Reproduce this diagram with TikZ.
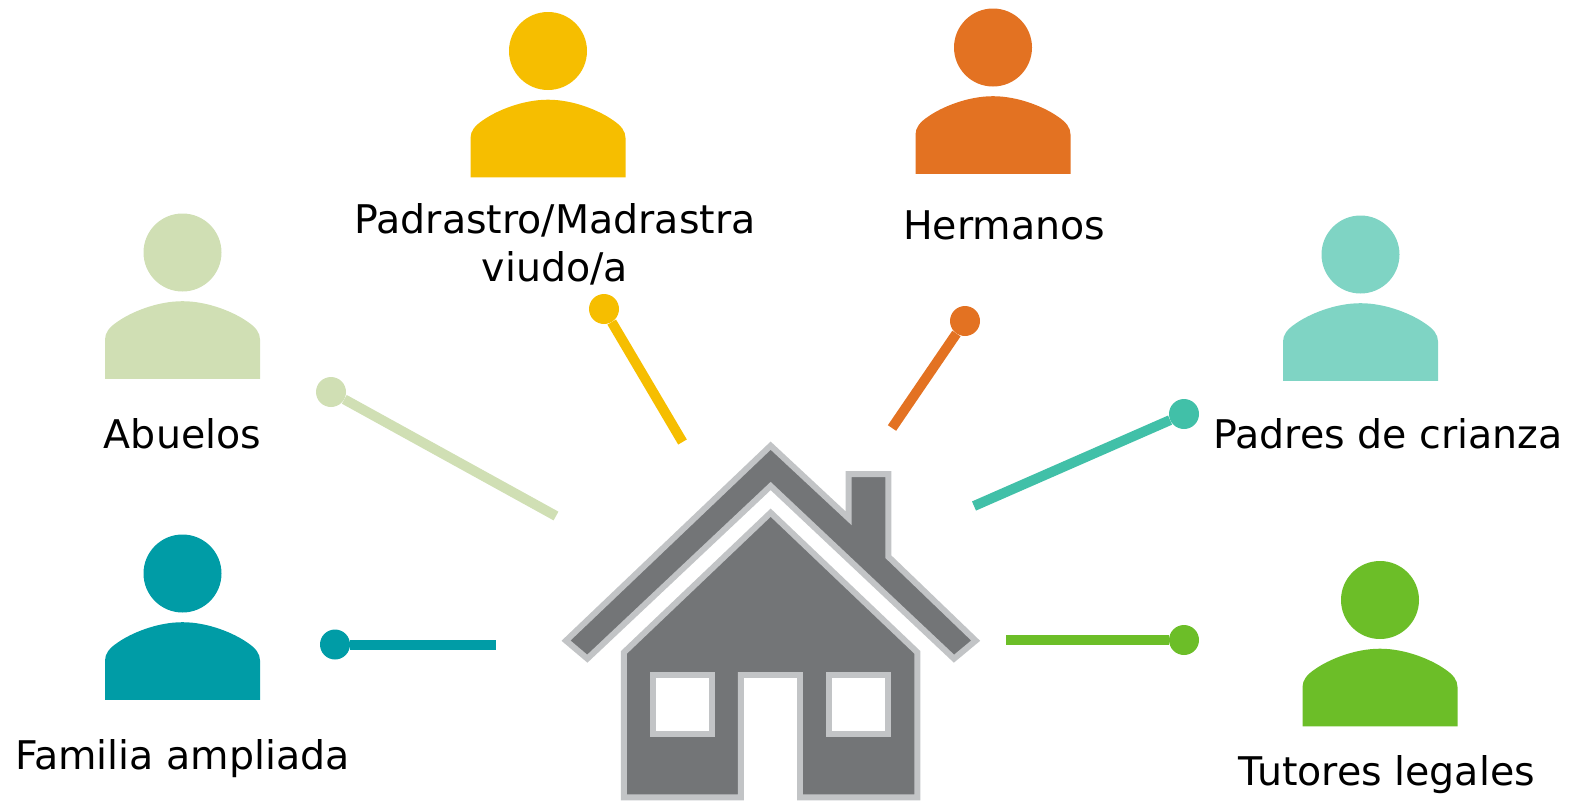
\documentclass[tikz,border=0pt]{standalone}
\usepackage{fontspec}
\setmainfont{DejaVu Sans}
\definecolor{cyellow}{HTML}{F6BE00}
\definecolor{corange}{HTML}{E37222}
\definecolor{cpale}{HTML}{D0DFB4}
\definecolor{cmint}{HTML}{7FD4C4}
\definecolor{cmintline}{HTML}{41C0A8}
\definecolor{cteal}{HTML}{009CA6}
\definecolor{cgreen}{HTML}{6CBE28}
\definecolor{housefill}{HTML}{737577}
\definecolor{houseline}{HTML}{C2C4C6}
\tikzset{
  head/.style={circle,fill=#1,inner sep=0pt,minimum size=78pt},
  dotnode/.style={circle,fill=#1,inner sep=0pt,minimum size=30pt},
  link/.style={draw=#1,line width=10pt},
  lab/.style={font=\fontsize{39.5pt}{48pt}\selectfont,text=black,inner sep=0pt,anchor=base,align=center},
  housepart/.style={fill=housefill,draw=houseline,line width=6pt,miter limit=10},
  windowpart/.style={fill=white,draw=houseline,line width=6pt}
}
\newcommand{\person}[4]{%
  \node[head=#4] (#1) at (#2,#3) {};
  \fill[#4,shift={(#2,#3)}] (-77.5,126.3) -- (-77.5,87) .. controls (-77.5,80) and (-73,74.5) .. (-64.7,69)
    .. controls (-52,60) and (-26,48.7) .. (0,48.7)
    .. controls (26,48.7) and (52,60) .. (64.7,69)
    .. controls (73,74.5) and (77.5,80) .. (77.5,87) -- (77.5,126.3) -- cycle;
}
\begin{document}
\begin{tikzpicture}[x=1pt,y=-1pt]
\useasboundingbox (0,0) rectangle (1571,801);
\person{pA}{182.5}{252.5}{cpale}
\person{pB}{548}{51}{cyellow}
\person{pC}{993}{47.5}{corange}
\person{pD}{1360.5}{254.5}{cmint}
\person{pE}{182.5}{573.5}{cteal}
\person{pF}{1380}{600}{cgreen}

\node[lab] (tA) at (182.5,448) {Abuelos};
\node[lab] (tB) at (555,281) {Padrastro/Madrastra\\viudo/a};
\node[lab] (tC) at (1004,239) {Hermanos};
\node[lab] (tD) at (1388,448) {Padres de crianza};
\node[lab] (tE) at (182.5,769) {Familia ampliada};
\node[lab] (tF) at (1387,785) {Tutores legales};

\node[dotnode=cpale] (dA) at (331,392) {};
\node[dotnode=cyellow] (dB) at (604,309) {};
\node[dotnode=corange] (dC) at (965,321) {};
\node[dotnode=cmintline] (dD) at (1184,414) {};
\node[dotnode=cteal] (dE) at (335,644.5) {};
\node[dotnode=cgreen] (dF) at (1184,640) {};
\coordinate (eA) at (556,516);
\coordinate (eB) at (682.5,442);
\coordinate (eC) at (892,428);
\coordinate (eD) at (974,506);
\coordinate (eE) at (496,644.5);
\coordinate (eF) at (1006,640);
\draw[link=cpale] (dA) -- (eA);
\draw[link=cyellow] (dB) -- (eB);
\draw[link=corange] (dC) -- (eC);
\draw[link=cmintline] (dD) -- (eD);
\draw[link=cteal] (dE) -- (eE);
\draw[link=cgreen] (dF) -- (eF);

\begin{scope}[x=0.33333pt,y=-0.33333pt,shift={(1620,1260)}]
\draw[housepart] (692,77) -- (926,295) -- (926,162) -- (1045,162) -- (1045,410) -- (1307,662)
  -- (1242,716) -- (692,198) -- (142,716) -- (78,662) -- cycle;
\draw[housepart] (692,278) -- (1132,697) -- (1132,1132) -- (780,1132) -- (780,765) -- (603,765)
  -- (603,1132) -- (252,1132) -- (252,697) -- cycle;
\fill[white] (612,775) rectangle (770,1146);
\draw[windowpart] (339,765) rectangle (517,942);
\draw[windowpart] (867,765) rectangle (1045,942);
\end{scope}
\end{tikzpicture}
\end{document}
